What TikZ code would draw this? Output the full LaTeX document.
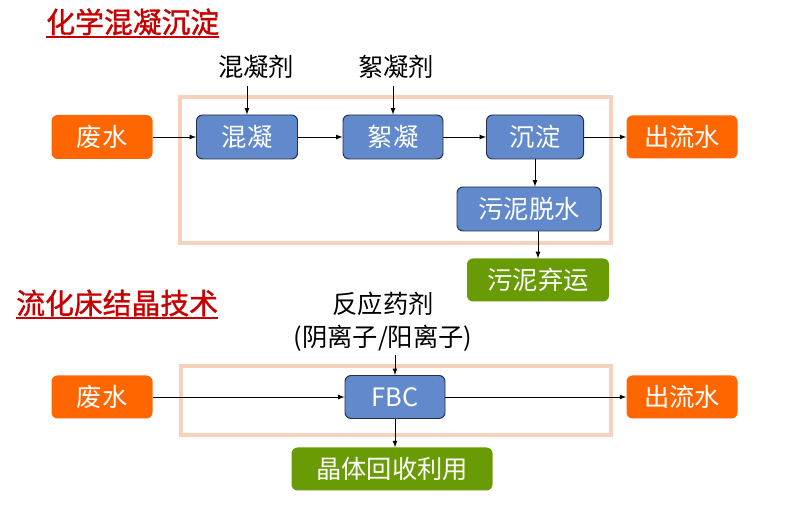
\documentclass[tikz,border=0pt]{standalone}
\usepackage{fontspec}
\setmainfont{Noto Sans CJK SC}
\newfontfamily\titlefont[FakeBold=1.2]{Noto Sans CJK SC}
\usetikzlibrary{positioning}
\tikzset{>=latex}
\definecolor{wasteorange}{RGB}{255,102,0}
\definecolor{procblue}{RGB}{97,137,204}
\definecolor{procedge}{RGB}{36,48,72}
\definecolor{outgreen}{RGB}{104,155,4}
\definecolor{framepeach}{RGB}{246,210,188}
\definecolor{titlered}{RGB}{200,0,0}
\tikzset{
  txt/.style={font=\fontsize{18}{23.5}\selectfont},
  waterbox/.style={txt, fill=wasteorange, text=white, rounded corners=0.15cm, minimum width=2.525cm, minimum height=1.1cm},
  procbox/.style={txt, draw=procedge, line width=0.7pt, fill=procblue, text=white, rounded corners=0.15cm, minimum width=2.5cm, minimum height=1.1cm},
  resbox/.style={txt, fill=outgreen, text=white, rounded corners=0.15cm, minimum height=1.075cm},
  headline/.style={font=\titlefont\fontsize{20.5}{24}\selectfont, text=titlered, inner xsep=0pt, inner ysep=1pt, anchor=south west},
  headrule/.style={titlered, line width=1.5pt},
  frame/.style={draw=framepeach, line width=2.4pt},
  flow/.style={->, line width=0.6pt}
}
\begin{document}
\begin{tikzpicture}
  \useasboundingbox (0,0) rectangle (19.975,-12.8);
  % chemical coagulation
  \node[headline] (t1) at (1.15,-0.925) {化学混凝沉淀};
  \draw[headrule] (t1.south west) -- (t1.south east);
  \draw[frame] (4.5,-2.425) rectangle (15.275,-6.075);
  \node[waterbox] (n0) at (2.55,-3.425) {废水};
  \node[procbox, right of=n0, node distance=3.625cm, minimum width=2.525cm] (n1) {混凝};
  \node[procbox, right of=n1, node distance=3.65cm] (n2) {絮凝};
  \node[procbox, right of=n2, node distance=3.55cm, minimum width=2.425cm] (n3) {沉淀};
  \node[waterbox, right of=n3, node distance=3.675cm, minimum width=2.775cm, minimum height=1.075cm] (n4) {出流水};
  \node[procbox, minimum width=3.6cm] (n5) at (13.225,-5.225) {污泥脱水};
  \node[resbox, minimum width=3.55cm] (n6) at (13.45,-7.0) {污泥弃运};
  \node[txt] (n7) at (6.4,-1.675) {混凝剂};
  \node[txt] (n8) at (9.9,-1.675) {絮凝剂};
  \coordinate[above of=n1, node distance=1.275cm] (aux1);
  \coordinate[above of=n2, node distance=1.275cm] (aux2);
  \draw[flow] (aux1) to (n1);
  \draw[flow] (aux2) to (n2);
  \draw[flow] (n0) to (n1);
  \draw[flow] (n1) to (n2);
  \draw[flow] (n2) to (n3);
  \draw[flow] (n3) to (n4);
  \draw[flow] (n3.south) to (n3.south |- n5.north);
  \draw[flow] (n5.south -| n6) to (n6);
  % fluidized bed crystallization
  \node[headline] (t2) at (0.4,-7.95) {流化床结晶技术};
  \draw[headrule] (t2.south west) -- (t2.south east);
  \draw[frame] (4.525,-9.15) rectangle (15.275,-10.875);
  \node[waterbox, minimum height=1.075cm] (n9) at (2.55,-9.925) {废水};
  \node[procbox, right of=n9, node distance=7.325cm, minimum height=1.075cm] (n10) {FBC};
  \node[waterbox, right of=n10, node distance=7.175cm, minimum width=2.775cm, minimum height=1.075cm] (n11) {出流水};
  \node[resbox, minimum width=5.025cm] (n12) at (9.8,-11.725) {晶体回收利用};
  \node[txt, align=center] (n13) at (9.575,-8.05) {反应药剂\\(阴离子/阳离子)};
  \coordinate[above of=n10, node distance=1.05cm] (aux3);
  \draw[flow] (aux3) to (n10);
  \draw[flow] (n9) to (n10);
  \draw[flow] (n10) to (n11);
  \draw[flow] (n10.south) to (n10.south |- n12.north);
\end{tikzpicture}
\end{document}
